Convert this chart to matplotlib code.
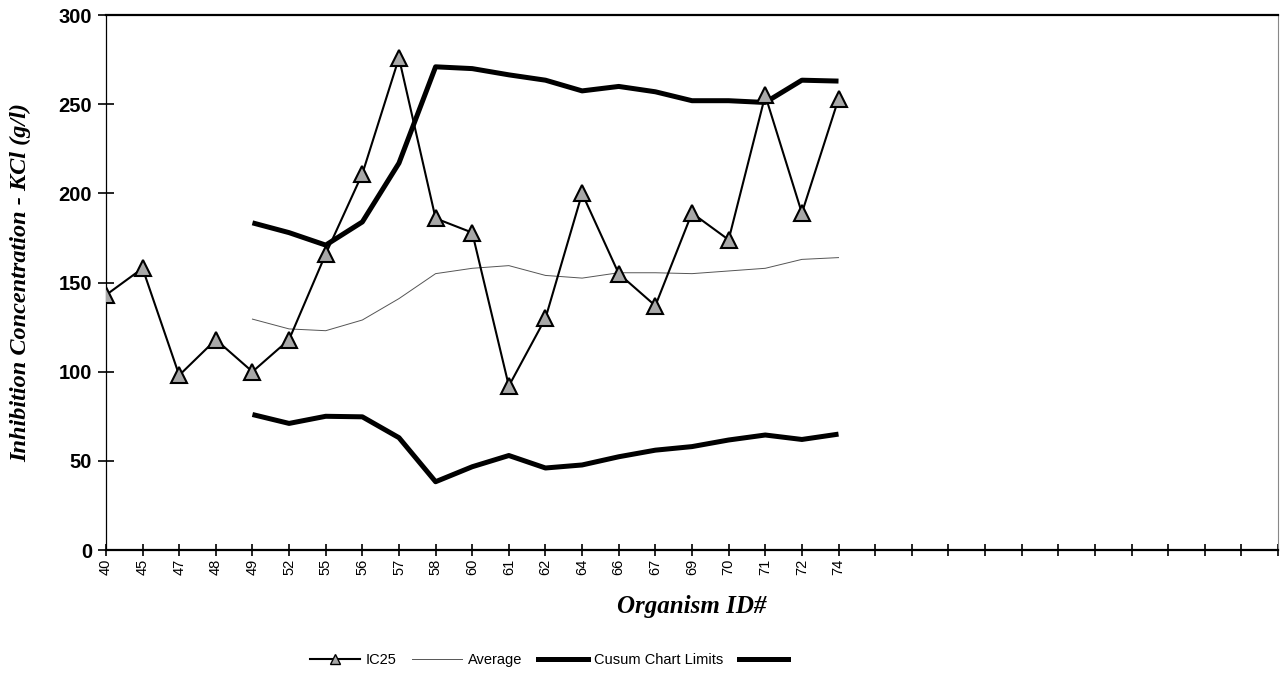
import numpy as np
import matplotlib.pyplot as plt
from matplotlib.lines import Line2D

# organism IDs along the category axis
organism_ids = ['40', '45', '47', '48', '49', '52', '55', '56', '57', '58', '60',
                '61', '62', '64', '66', '67', '69', '70', '71', '72', '74']
n_slots = 33  # axis keeps going past the last organism with empty categories

ic25 = [143, 158, 98, 118, 100, 118, 166, 211, 276, 186, 178,
        92, 130, 200, 155, 137, 189, 174, 255, 189, 253]

# running average and cusum limits start at organism 49
avg = [None, None, None, None, 129.5, 124, 123, 129, 141, 155, 158,
       159.5, 154, 152.5, 155.5, 155.5, 155, 156.5, 158, 163, 164]
upper = [None, None, None, None, 183.5, 178, 171, 184, 217, 271, 270,
         266.5, 263.5, 257.5, 260, 257, 252, 252, 251, 263.5, 263]
lower = [None, None, None, None, 76, 71, 75, 74.7, 63, 38.3, 46.7,
         53, 46, 47.7, 52.3, 56, 58, 61.7, 64.5, 62, 65]


def to_arr(vals):
    return np.array([np.nan if v is None else v for v in vals], dtype=float)


x = np.arange(len(organism_ids))

fig = plt.figure(figsize=(12.81, 6.87), dpi=100)
ax = fig.add_axes([0.0827, 0.1994, 0.915, 0.7786])

ax.plot(x, to_arr(avg), color='#555555', lw=0.7, zorder=2)
ax.plot(x, to_arr(upper), color='black', lw=3.6, solid_capstyle='butt', zorder=3)
ax.plot(x, to_arr(lower), color='black', lw=3.6, solid_capstyle='butt', zorder=3)
ax.plot(x, ic25, color='black', lw=1.5, marker='^', markersize=11,
        markerfacecolor='#a8a8a8', markeredgecolor='black', markeredgewidth=1.5,
        zorder=4)

ax.set_xlim(0, n_slots - 1)
ax.set_ylim(0, 300)
ax.set_yticks(np.arange(0, 301, 50))
ax.set_xticks(np.arange(n_slots))
ax.set_xticklabels(organism_ids + [''] * (n_slots - len(organism_ids)),
                   rotation=90, fontsize=10.5, family='Liberation Sans')
for lbl in ax.get_yticklabels():
    lbl.set_fontweight('bold')
    lbl.set_fontsize(14.5)
    lbl.set_family('Liberation Sans')

ax.tick_params(axis='x', direction='inout', length=9, width=1.2, pad=2)
ax.tick_params(axis='y', direction='inout', length=12, width=1.2, pad=4)

ax.spines['top'].set_linewidth(1.6)
ax.spines['bottom'].set_linewidth(1.6)
ax.spines['left'].set_linewidth(0.9)
ax.spines['right'].set_linewidth(0.8)
ax.spines['right'].set_color('#888888')

ax.set_ylabel('Inhibition Concentration - KCl (g/l)', family='Liberation Serif',
              fontsize=17.5, fontweight='bold', style='italic')
ax.yaxis.set_label_coords(-0.064, 0.5)
ax.set_xlabel('Organism ID#', family='Liberation Serif', fontsize=18,
              fontweight='bold', style='italic', labelpad=14)

handles = [
    Line2D([], [], color='black', lw=1.5, marker='^', markersize=7,
           markerfacecolor='#a8a8a8', markeredgecolor='black'),
    Line2D([], [], color='#555555', lw=0.7),
    Line2D([], [], color='black', lw=3.6),
    Line2D([], [], color='black', lw=3.6),
]
fig.legend(handles, ['IC25', 'Average', 'Cusum Chart Limits', ''],
           loc='center', bbox_to_anchor=(0.431, 0.039), ncol=4, frameon=False,
           prop={'family': 'Liberation Sans', 'size': 10.5},
           handlelength=3.4, columnspacing=1.1, handletextpad=0.4)

fig.savefig('out.png', dpi=100)
